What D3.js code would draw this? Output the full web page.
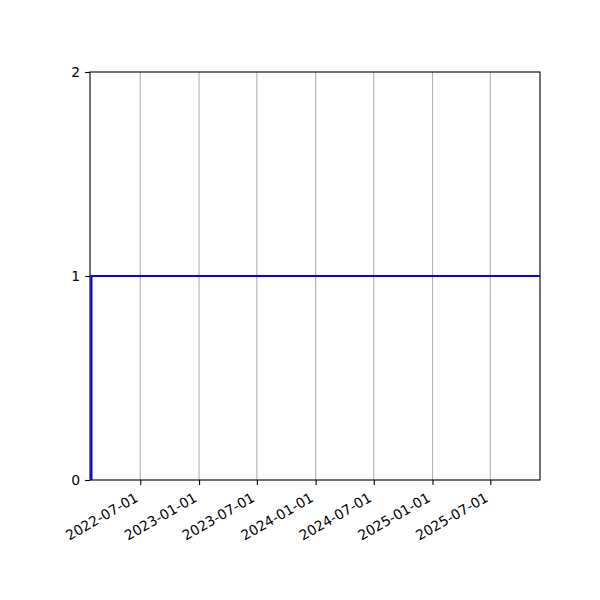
<!DOCTYPE html>
<html>
<head>
<meta charset="utf-8">
<script src="https://cdn.jsdelivr.net/npm/d3@7"></script>
<style>
  body { margin: 0; background: #fff; }
  text { font-family: "DejaVu Sans", sans-serif; fill: #000; }
</style>
</head>
<body>
<div id="canvas"></div>
<script>
// data
const dates = ["2022-01-29", "2022-01-29", "2025-12-03"];
const values = [0, 1, 1];
const xDomain = ["2022-01-24T12:00", "2025-12-03T14:00"];
const xTicks = ["2022-07-01", "2023-01-01", "2023-07-01", "2024-01-01", "2024-07-01", "2025-01-01", "2025-07-01"];
const yTicks = [0, 1, 2];

const width = 600;
const height = 600;
const margin = { top: 72, left: 90, bottom: 120, right: 60 };
const iwidth = width - margin.left - margin.right;
const iheight = height - margin.top - margin.bottom;

const parse = d3.timeParse("%Y-%m-%d");
const parseT = d3.timeParse("%Y-%m-%dT%H:%M");

const svg = d3.select("#canvas").append("svg")
  .attr("width", width)
  .attr("height", height);

const g1 = svg.append("g").attr("transform", `translate(${margin.left},${margin.top})`);

const x = d3.scaleTime()
  .domain(xDomain.map(d => parseT(d)))
  .range([0, iwidth]);

const y = d3.scaleLinear()
  .domain([0, 2])
  .range([iheight, 0]);

// vertical grid
g1.append("g")
  .selectAll("line")
  .data(xTicks)
  .enter().append("line")
  .attr("x1", d => x(parse(d)))
  .attr("x2", d => x(parse(d)))
  .attr("y1", 0)
  .attr("y2", iheight)
  .attr("stroke", "#b0b0b0")
  .attr("stroke-width", 1.1);

g1.append("clipPath").attr("id", "clip")
  .append("rect").attr("width", iwidth).attr("height", iheight);

const pts = dates.map((d, i) => [parse(d), values[i]]);
const line = d3.line()
  .x(d => x(d[0]))
  .y(d => y(d[1]));

g1.append("path")
  .datum(pts)
  .attr("clip-path", "url(#clip)")
  .attr("fill", "none")
  .attr("stroke", "#0000ff")
  .attr("stroke-width", 2.1)
  .attr("d", line);

// x axis
const xAxis = g1.append("g")
  .attr("transform", `translate(0, ${iheight})`)
  .call(d3.axisBottom(x).tickValues(xTicks.map(parse)).tickSize(4.9).tickPadding(0).tickFormat(d3.timeFormat("%Y-%m-%d")));
xAxis.select(".domain").remove();
xAxis.selectAll(".tick line").attr("stroke", "#000").attr("stroke-width", 1.1);
xAxis.selectAll(".tick text")
  .attr("font-size", "13.9px")
  .attr("font-family", "DejaVu Sans")
  .attr("text-anchor", "end")
  .attr("dy", null)
  .attr("y", null)
  .attr("transform", "translate(-1.6, 20.5) rotate(-30)");

// y axis
const yAxis = g1.append("g")
  .call(d3.axisLeft(y).tickValues(yTicks).tickSize(4.9).tickPadding(4.9).tickFormat(d3.format("d")));
yAxis.select(".domain").remove();
yAxis.selectAll(".tick line").attr("stroke", "#000").attr("stroke-width", 1.1);
yAxis.selectAll(".tick text")
  .attr("font-size", "13.9px")
  .attr("font-family", "DejaVu Sans");

// frame
g1.append("rect")
  .attr("width", iwidth)
  .attr("height", iheight)
  .attr("fill", "none")
  .attr("stroke", "#000")
  .attr("stroke-width", 1.1);
</script>
</body>
</html>
